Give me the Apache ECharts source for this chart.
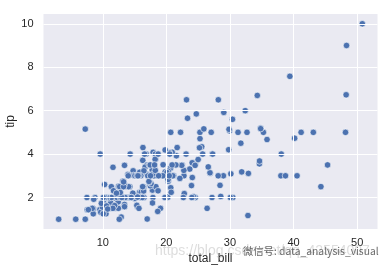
<!DOCTYPE html>
<html><head><meta charset="utf-8">
<script src="https://cdn.jsdelivr.net/npm/echarts@6/dist/echarts.min.js"></script>
<style>html,body{margin:0;padding:0;background:#fff}#c{width:390px;height:271px}</style>
</head><body><div id="c"></div>
<script>
const totalBill = [16.99,10.34,21.01,23.68,24.59,25.29,8.77,26.88,15.04,14.78,10.27,35.26,15.42,18.43,14.83,21.58,10.33,16.29,16.97,20.65,17.92,20.29,15.77,39.42,19.82,17.81,13.37,12.69,21.7,19.65,9.55,18.35,15.06,20.69,17.78,24.06,16.31,16.93,18.69,31.27,16.04,17.46,13.94,9.68,30.4,18.29,22.23,32.4,28.55,18.04,12.54,10.29,34.81,9.94,25.56,19.49,38.01,26.41,11.24,48.27,20.29,13.81,11.02,18.29,17.59,20.08,16.45,3.07,20.23,15.01,12.02,17.07,26.86,25.28,14.73,10.51,17.92,27.2,22.76,17.29,19.44,16.66,10.07,32.68,15.98,34.83,13.03,18.28,24.71,21.16,28.97,22.49,5.75,16.32,22.75,40.17,27.28,12.03,21.01,12.46,11.35,15.38,44.3,22.42,20.92,15.36,20.49,25.21,18.24,14.31,14.0,7.25,38.07,23.95,25.71,17.31,29.93,10.65,12.43,24.08,11.69,13.42,14.26,15.95,12.48,29.8,8.52,14.52,11.38,22.82,19.08,20.27,11.17,12.26,18.26,8.51,10.33,14.15,16.0,13.16,17.47,34.3,41.19,27.05,16.43,8.35,18.64,11.87,9.78,7.51,14.07,13.13,17.26,24.55,19.77,29.85,48.17,25.0,13.39,16.49,21.5,12.66,16.21,13.81,17.51,24.52,20.76,31.71,10.59,10.63,50.81,15.81,7.25,31.85,16.82,32.9,17.89,14.48,9.6,34.63,34.65,23.33,45.35,23.17,40.55,20.69,20.9,30.46,18.15,23.1,15.69,19.81,28.44,15.48,16.58,7.56,10.34,43.11,13.0,13.51,18.71,12.74,13.0,16.4,20.53,16.47,26.59,38.73,24.27,12.76,30.06,25.89,48.33,13.27,28.17,12.9,28.15,11.59,7.74,30.14,12.16,13.42,8.58,15.98,13.42,16.27,10.09,20.45,13.28,22.12,24.01,15.69,11.61,10.77,15.53,10.07,12.6,32.83,35.83,29.03,27.18,22.67,17.82,18.78];
const tip = [1.01,1.66,3.5,3.31,3.61,4.71,2.0,3.12,1.96,3.23,1.71,5.0,1.57,3.0,3.02,3.92,1.67,3.71,3.5,3.35,4.08,2.75,2.23,7.58,3.18,2.34,2.0,2.0,4.3,3.0,1.45,2.5,3.0,2.45,3.27,3.6,2.0,3.07,2.31,5.0,2.24,2.54,3.06,1.32,5.6,3.0,5.0,6.0,2.05,3.0,2.5,2.6,5.2,1.56,4.34,3.51,3.0,1.5,1.76,6.73,3.21,2.0,1.98,3.76,2.64,3.15,2.47,1.0,2.01,2.09,1.97,3.0,3.14,5.0,2.2,1.25,3.08,4.0,3.0,2.71,3.0,3.4,1.83,5.0,2.03,5.17,2.0,4.0,5.85,3.0,3.0,3.5,1.0,4.3,3.25,4.73,4.0,1.5,3.0,1.5,2.5,3.0,2.5,3.48,4.08,1.64,4.06,4.29,3.76,4.0,3.0,1.0,4.0,2.55,4.0,3.5,5.07,1.5,1.8,2.92,2.31,1.68,2.5,2.0,2.52,4.2,1.48,2.0,2.0,2.18,1.5,2.83,1.5,2.0,3.25,1.25,2.0,2.0,2.0,2.75,3.5,6.7,5.0,5.0,2.3,1.5,1.36,1.63,1.73,2.0,2.5,2.0,2.74,2.0,2.0,5.14,5.0,3.75,2.61,2.0,3.5,2.5,2.0,2.0,3.0,3.48,2.24,4.5,1.61,2.0,10.0,3.16,5.15,3.18,4.0,3.11,2.0,2.0,4.0,3.55,3.68,5.65,3.5,6.5,3.0,5.0,3.5,2.0,3.5,4.0,1.5,4.19,2.56,2.02,4.0,1.44,2.0,5.0,2.0,2.0,4.0,2.01,2.0,2.5,4.0,3.23,3.41,3.0,2.03,2.23,2.0,5.16,9.0,2.5,6.5,1.1,3.0,1.5,1.44,3.09,2.2,3.48,1.92,3.0,1.58,2.5,2.0,3.0,2.72,2.88,2.0,3.0,3.39,1.47,3.0,1.25,1.0,1.17,4.67,5.92,2.0,2.0,1.75,3.0];
const xTicks = [10, 20, 30, 40, 50];
const yTicks = [2, 4, 6, 8, 10];
const xName = 'total_bill';
const yName = 'tip';

const points = totalBill.map((v, i) => [v, tip[i]]);
const chart = echarts.init(document.getElementById('c'), null, {renderer: 'canvas'});
const txt = '#262626';
const font = 'Liberation Sans, Arial, sans-serif';
chart.setOption({
  animation: false,
  backgroundColor: '#fff',
  grid: {left: 43.5, right: 12.5, top: 14, bottom: 42, show: true, backgroundColor: '#EAEAF2', borderWidth: 0},
  xAxis: {
    type: 'value', min: 0.683, max: 53.2,
    axisLine: {show: false}, axisTick: {show: false},
    splitLine: {show: false},
    axisLabel: {show: false}
  },
  yAxis: {
    type: 'value', min: 0.55, max: 10.45,
    axisLine: {show: false}, axisTick: {show: false},
    splitLine: {show: false},
    axisLabel: {show: false}
  },
  series: [
    {
      type: 'line', data: [], silent: true,
      markLine: {
        silent: true, symbol: 'none', animation: false,
        lineStyle: {color: '#fff', width: 1, type: 'solid'},
        label: {show: false},
        data: xTicks.map(t => ({xAxis: t})).concat(yTicks.map(t => ({yAxis: t})))
      }
    },
    {
      type: 'scatter', data: points, symbolSize: 6.5,
      itemStyle: {color: '#4C72B0', borderColor: '#fff', borderWidth: 0.6, opacity: 1}
    }
  ]
});

const g = [];
xTicks.forEach(t => {
  const p = chart.convertToPixel({gridIndex: 0}, [t, 0.55]);
  g.push({type: 'text', x: p[0], y: p[1] + 8, style: {text: String(t), fill: txt, font: '11px ' + font, align: 'center', verticalAlign: 'top'}});
});
yTicks.forEach(t => {
  const p = chart.convertToPixel({gridIndex: 0}, [0.683, t]);
  g.push({type: 'text', x: p[0] - 10, y: p[1], style: {text: String(t), fill: txt, font: '11px ' + font, align: 'right', verticalAlign: 'middle'}});
});
g.push({type: 'text', x: 210.5, y: 253, style: {text: xName, fill: txt, font: '12px ' + font, align: 'center', verticalAlign: 'top'}});
g.push({type: 'text', x: 5, y: 121.5, rotation: Math.PI / 2, style: {text: yName, fill: txt, font: '12px ' + font, align: 'center', verticalAlign: 'top'}});
// watermark
g.push({type: 'text', x: 155, y: 251, z: 100, style: {text: 'https://blog.csdn.net/qq_42554007', fill: 'rgba(170,170,170,0.4)', font: '14px ' + font, align: 'left', verticalAlign: 'middle'}});
g.push({type: 'text', x: 243, y: 251, z: 101, style: {text: '微信号: data_analysis_visual', fill: 'rgba(70,70,70,0.8)', font: '10.3px "Noto Sans CJK SC", ' + font, align: 'left', verticalAlign: 'middle'}});
chart.setOption({graphic: g});
</script>
</body></html>
